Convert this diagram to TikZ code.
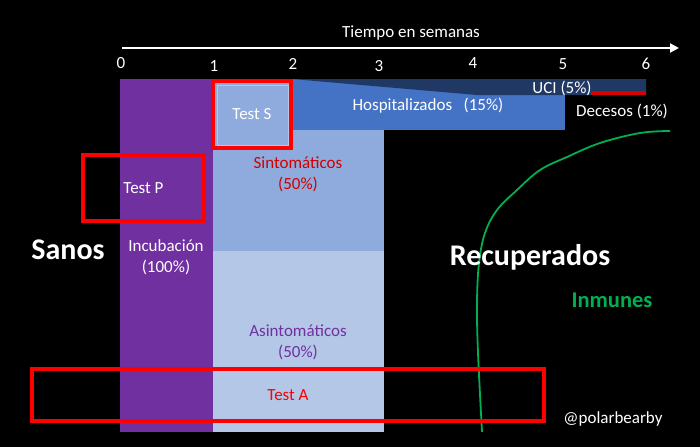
\documentclass[tikz,border=0pt]{standalone}
\usepackage{fontspec}
\setmainfont{Carlito}
\usetikzlibrary{arrows.meta}
\definecolor{incub}{HTML}{7030A0}
\definecolor{sinto}{HTML}{8FAADC}
\definecolor{asinto}{HTML}{B4C7E7}
\definecolor{hosp}{HTML}{4472C4}
\definecolor{uci}{HTML}{203864}
\definecolor{testred}{HTML}{FF0000}
\definecolor{sintored}{HTML}{D00000}
\definecolor{inmune}{HTML}{00B050}

\begin{document}
\begin{tikzpicture}[x=1pt,y=-1pt,lbl/.style={text=white,align=center,inner sep=0pt,font=\fontsize{17}{21}\selectfont},big/.style={text=white,inner sep=0pt,font=\fontsize{30}{34}\selectfont\bfseries},tick/.style={text=white,inner sep=0pt,font=\fontsize{17}{20}\selectfont},testbox/.style={draw=testred,line width=3.5pt,inner sep=0pt,font=\fontsize{17}{21}\selectfont},axis/.style={white,line width=2pt,-{Triangle[length=9pt,width=9pt]}}]
\fill[black] (0,0) rectangle (700,447);
\useasboundingbox (0,0) rectangle (700,447);
% time axis
\coordinate (t0) at (122,48);
\coordinate (t6) at (679,48);
\draw[axis] (t0) -- (t6);
\node[tick] (tiempo) at (411,33) {Tiempo en semanas};
\foreach \x/\y [count=\i from 0] in {121/63,214/66,293/64,379/66,473/63,563/64,646/64}
  \node[tick] (w\i) at (\x,\y) {\i};
% stages
\fill[incub] (120,79) rectangle (213,432);
\fill[sinto] (213,79) rectangle (384,251);
\fill[asinto] (213,251) rectangle (384,432);
\draw[sinto!70!white,line width=0.8pt] (213,368) -- (384,368) (213,418) -- (384,418);
\filldraw[fill=sinto,draw=asinto,line width=0.8pt] (217,85) rectangle (288,145);
\fill[hosp] (292,79) rectangle (565,130);
\fill[uci] (292,79) -- (646,79) -- (646,95) -- (477,95) -- cycle;
\draw[testred!85!black,line width=3.5pt] (591,93) -- (646,93);
% recovered
\draw[inmune,line width=1.8pt] plot[smooth,tension=0.6] coordinates {(670,131) (640,133) (600,143) (567,157) (540,170) (517,190) (497,210) (485,233) (479,263) (477,303) (478,353) (482,432)};
% labels
\node[lbl] (uci) at (562,88) {UCI (5\%)};
\node[lbl] (hospital) at (428,106) {Hospitalizados \ \ (15\%)};
\node[lbl] (decesos) at (622,111) {Decesos (1\%)};
\node[lbl,text=sintored] (sintomas) at (298,174.5) {Sintomáticos\\(50\%)};
\node[lbl,text=incub] (asintomas) at (298,342.5) {Asintomáticos\\(50\%)};
\node[lbl] (incubacion) at (166,257) {Incubación\\(100\%)};
\node[big] (sanos) at (68,250) {Sanos};
\node[big] (recuperados) at (530,257) {Recuperados};
\node[big,text=inmune,font=\fontsize{22.5}{26}\selectfont\bfseries] (inmunes) at (612,300) {Inmunes};
\node[lbl] (autor) at (613,419) {@polarbearby};
% tests
\node[testbox,text=white,minimum width=78,minimum height=67] (tests) at (252,114.5) {Test S};
\node[testbox,text=white,minimum width=121,minimum height=66] (testp) at (143.5,188) {Test P};
\node[testbox,text=testred,minimum width=512,minimum height=52] (testa) at (288,395) {Test A};
\end{tikzpicture}
\end{document}
